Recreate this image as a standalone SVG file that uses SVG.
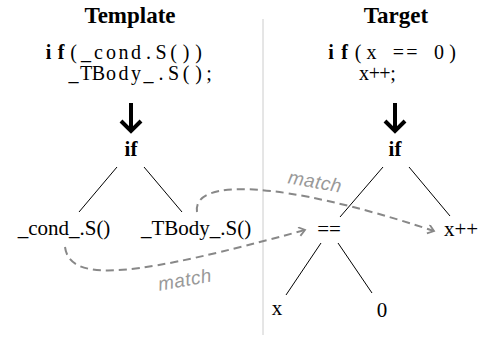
<svg xmlns="http://www.w3.org/2000/svg" width="481" height="343" viewBox="0 0 481 343">
<style>
.title{font-family:"Liberation Serif",serif;font-weight:bold;font-size:23px;text-anchor:middle;fill:#000}
.code{font-family:"Liberation Serif",serif;font-size:20px;text-anchor:middle;fill:#000}
.kw{font-weight:bold}
.node{font-family:"Liberation Serif",serif;font-size:21px;text-anchor:middle;fill:#000}
.bold{font-weight:bold}
.edge{stroke:#000;stroke-width:1;fill:none}
.big{stroke:#000;stroke-width:4;fill:none;stroke-linejoin:miter}
.match{stroke:#888;stroke-width:2;fill:none;stroke-dasharray:8 5}
.mlabel{font-family:"Liberation Sans",sans-serif;font-style:italic;font-size:19px;fill:#999;text-anchor:middle;letter-spacing:0.5px}
</style>
<defs>
<marker id="chev" markerUnits="userSpaceOnUse" markerWidth="12" markerHeight="12" refX="7" refY="5" orient="auto">
<path d="M1,0.5 L7,5 L1,9.5" fill="none" stroke="#888" stroke-width="1.8"/>
</marker>
</defs>
<line x1="263" y1="19" x2="263" y2="335" stroke="#ccc" stroke-width="1"/>
<g id="template">
<text class="title" x="130" y="23">Template</text>
<text class="code" y="59"><tspan class="kw" x="48.5 61">if</tspan><tspan x="73.5 86 98.5 111 123.5 136 148.5 161 173.5 186 198.5">(_cond.S())</tspan></text>
<text class="code" y="80" x="73.5 86 98.5 111 123.5 136 148.5 161 173.5 186 198.5 209">_TBody_.S();</text>
<path class="big" d="M131,103 L131,131"/>
<path class="big" d="M121,121 L131,131 L141,121"/>
</g>
<g id="target">
<text class="title" x="396" y="23">Target</text>
<text class="code" y="59"><tspan class="kw" x="331 344.5">if</tspan><tspan x="358 371.5 398.5 412 439 452.5">(x==0)</tspan></text>
<text class="code" y="80" x="364 374.5 385 393">x++;</text>
<path class="big" d="M395,103 L395,131"/>
<path class="big" d="M385,121 L395,131 L405,121"/>
</g>
<g id="t_if"><text class="node bold" x="131" y="156">if</text></g>
<g id="t_cond"><text class="node" x="64" y="235">_cond_.S()</text></g>
<g id="t_body"><text class="node" x="196" y="235">_TBody_.S()</text></g>
<g id="g_if"><text class="node bold" x="395" y="156">if</text></g>
<g id="g_eq"><text class="node" x="329" y="236">==</text></g>
<g id="g_inc"><text class="node" x="461" y="236">x++</text></g>
<g id="g_x"><text class="node" x="277" y="315">x</text></g>
<g id="g_0"><text class="node" x="382" y="317">0</text></g>
<g id="connectors">
<line class="edge" x1="117" y1="167" x2="79" y2="212"/>
<line class="edge" x1="144" y1="167" x2="182" y2="212"/>
<line class="edge" x1="383" y1="167" x2="340" y2="217"/>
<line class="edge" x1="409" y1="167" x2="450" y2="216"/>
<line class="edge" x1="321" y1="243" x2="286" y2="295"/>
<line class="edge" x1="338" y1="243" x2="372" y2="293"/>
<path class="match" d="M65,247 C70,285 140,275 305,230" marker-end="url(#chev)"/>
<path class="match" d="M197,212 C192,178 280,180 434,231" marker-end="url(#chev)"/>
<text class="mlabel" transform="translate(186,286) rotate(-10)">match</text>
<text class="mlabel" transform="translate(314,188) rotate(10)">match</text>
</g>
</svg>
